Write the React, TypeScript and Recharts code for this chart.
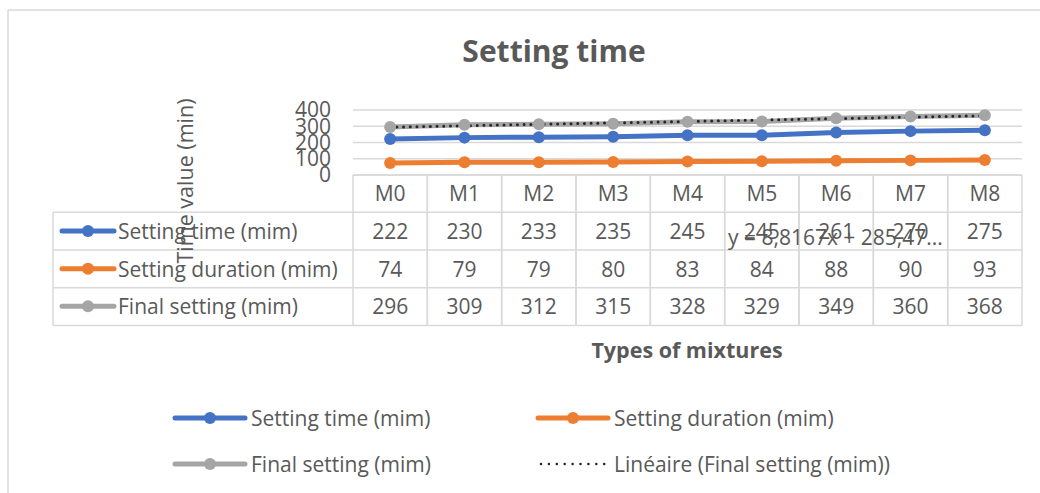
import React from 'react';
import { LineChart, Line, XAxis, YAxis, CartesianGrid } from 'recharts';

const categories = ['M0', 'M1', 'M2', 'M3', 'M4', 'M5', 'M6', 'M7', 'M8'];
const settingTime = [222, 230, 233, 235, 245, 245, 261, 270, 275];
const settingDuration = [74, 79, 79, 80, 83, 84, 88, 90, 93];
const finalSetting = [296, 309, 312, 315, 328, 329, 349, 360, 368];
const yTicks = [0, 100, 200, 300, 400];
const trendSlope = 8.8167;
const trendIntercept = 285.47;
const trendLabel = 'y = 8,8167x + 285,47...';

const seriesInfo = [
  { key: 'time', name: 'Setting time (mim)', color: '#4472C4', values: settingTime },
  { key: 'duration', name: 'Setting duration (mim)', color: '#ED7D31', values: settingDuration },
  { key: 'final', name: 'Final setting (mim)', color: '#A5A5A5', values: finalSetting },
];

const data = categories.map((c, i) => ({
  name: c,
  time: settingTime[i],
  duration: settingDuration[i],
  final: finalSetting[i],
  trend: trendIntercept + trendSlope * (i + 1),
}));

const FONT = '"Open Sans", sans-serif';
const TXT = '#595959';
const GRID = '#D9D9D9';
const FS = 21;
const COL = 74.3;
const ROWS = [0, 37.3, 75, 112.7, 150.5];
const ROW_TEXT = [18, 56, 93.7, 131.3];
const TABLE_LEFT = 53;

const TableTick = (props: any) => {
  const { x, y, index, payload } = props;
  const half = COL / 2;
  const l = x - half;
  const r = x + half;
  const els: any[] = [];
  ROWS.forEach((dy, i) => {
    els.push(<line key={'h' + i} x1={l} x2={r} y1={y + dy} y2={y + dy} stroke={GRID} strokeWidth={1.5} />);
  });
  els.push(<line key="vl" x1={l} x2={l} y1={y} y2={y + ROWS[4]} stroke={GRID} strokeWidth={1.5} />);
  els.push(<line key="vr" x1={r} x2={r} y1={y} y2={y + ROWS[4]} stroke={GRID} strokeWidth={1.5} />);
  els.push(
    <text key="hd" x={x} y={y + ROW_TEXT[0]} textAnchor="middle" dominantBaseline="central" fill={TXT} fontSize={FS} fontFamily={FONT}>
      {payload.value}
    </text>
  );
  seriesInfo.forEach((s, si) => {
    els.push(
      <text key={'v' + si} x={x} y={y + ROW_TEXT[si + 1]} textAnchor="middle" dominantBaseline="central" fill={TXT} fontSize={FS} fontFamily={FONT}>
        {s.values[index]}
      </text>
    );
  });
  if (index === 0) {
    [1, 2, 3, 4].forEach((ri) => {
      els.push(<line key={'lh' + ri} x1={TABLE_LEFT} x2={l} y1={y + ROWS[ri]} y2={y + ROWS[ri]} stroke={GRID} strokeWidth={1.5} />);
    });
    els.push(<line key="lv" x1={TABLE_LEFT} x2={TABLE_LEFT} y1={y + ROWS[1]} y2={y + ROWS[4]} stroke={GRID} strokeWidth={1.5} />);
    seriesInfo.forEach((s, si) => {
      const ty = y + ROW_TEXT[si + 1];
      els.push(<line key={'k' + si} x1={62} x2={114} y1={ty} y2={ty} stroke={s.color} strokeWidth={5} strokeLinecap="round" />);
      els.push(<circle key={'kc' + si} cx={88} cy={ty} r={6} fill={s.color} />);
      els.push(
        <text key={'kt' + si} x={118} y={ty} dominantBaseline="central" fill={TXT} fontSize={FS} fontFamily={FONT}>
          {s.name}
        </text>
      );
    });
  }
  return <g>{els}</g>;
};

export default function App() {
  return (
    <div style={{ position: 'absolute', left: 0, top: 0, width: 1040, height: 493, background: '#fff', overflow: 'hidden' }}>
      <LineChart width={1040} height={493} data={data} margin={{ top: 110, right: 18, bottom: 168, left: 0 }}>
        <CartesianGrid vertical={false} stroke={GRID} strokeWidth={1.5} />
        <XAxis
          dataKey="name"
          height={150}
          axisLine={false}
          tickLine={false}
          tickSize={0}
          tickMargin={0}
          padding={{ left: COL / 2, right: COL / 2 }}
          interval={0}
          tick={<TableTick />}
        />
        <YAxis
          width={353}
          domain={[0, 400]}
          ticks={yTicks}
          axisLine={false}
          tickLine={false}
          tickSize={0}
          tickMargin={22}
          interval={0}
          tick={{ fill: TXT, fontSize: FS, fontFamily: FONT }}
        />
        {seriesInfo.map((s) => (
          <Line
            key={s.key}
            type="linear"
            dataKey={s.key}
            stroke={s.color}
            strokeWidth={5}
            dot={{ r: 6, fill: s.color, stroke: s.color, strokeWidth: 0 }}
            activeDot={false}
            isAnimationActive={false}
          />
        ))}
        <Line
          type="linear"
          dataKey="trend"
          stroke="#262626"
          strokeWidth={3}
          strokeDasharray="0 6.7"
          strokeLinecap="round"
          dot={false}
          activeDot={false}
          isAnimationActive={false}
        />
      </LineChart>
      <svg width={1040} height={493} style={{ position: 'absolute', left: 0, top: 0, pointerEvents: 'none' }}>
        <line x1={8} x2={1040} y1={10} y2={10} stroke={GRID} strokeWidth={1.5} />
        <line x1={8} x2={8} y1={10} y2={493} stroke={GRID} strokeWidth={1.5} />
        <text x={554} y={50} textAnchor="middle" dominantBaseline="central" fill={TXT} fontSize={30} fontWeight="bold" fontFamily={FONT}>
          Setting time
        </text>
        <text x={184} y={181} transform="rotate(-90 184 181)" textAnchor="middle" dominantBaseline="central" fill={TXT} fontSize={21.5} fontFamily={FONT}>
          Time value (min)
        </text>
        <text x={728} y={237} dominantBaseline="central" fill={TXT} fontSize={FS} fontFamily={FONT}>
          {trendLabel}
        </text>
        <text x={687} y={349} textAnchor="middle" dominantBaseline="central" fill={TXT} fontSize={21.5} fontWeight="bold" fontFamily={FONT}>
          Types of mixtures
        </text>
        {[
          { ...seriesInfo[0], lx: 173, ly: 418 },
          { ...seriesInfo[1], lx: 536, ly: 418 },
          { ...seriesInfo[2], lx: 173, ly: 464 },
        ].map((s) => (
          <g key={s.key}>
            <line x1={s.lx + 2} x2={s.lx + 72} y1={s.ly} y2={s.ly} stroke={s.color} strokeWidth={5} strokeLinecap="round" />
            <circle cx={s.lx + 37} cy={s.ly} r={6} fill={s.color} />
            <text x={s.lx + 78} y={s.ly} dominantBaseline="central" fill={TXT} fontSize={FS} fontFamily={FONT}>
              {s.name}
            </text>
          </g>
        ))}
        <line x1={541} x2={605} y1={464} y2={464} stroke="#262626" strokeWidth={2.6} strokeDasharray="0 7.9" strokeLinecap="round" />
        <text x={614} y={464} dominantBaseline="central" fill={TXT} fontSize={FS} fontFamily={FONT}>
          Linéaire (Final setting (mim))
        </text>
      </svg>
    </div>
  );
}
